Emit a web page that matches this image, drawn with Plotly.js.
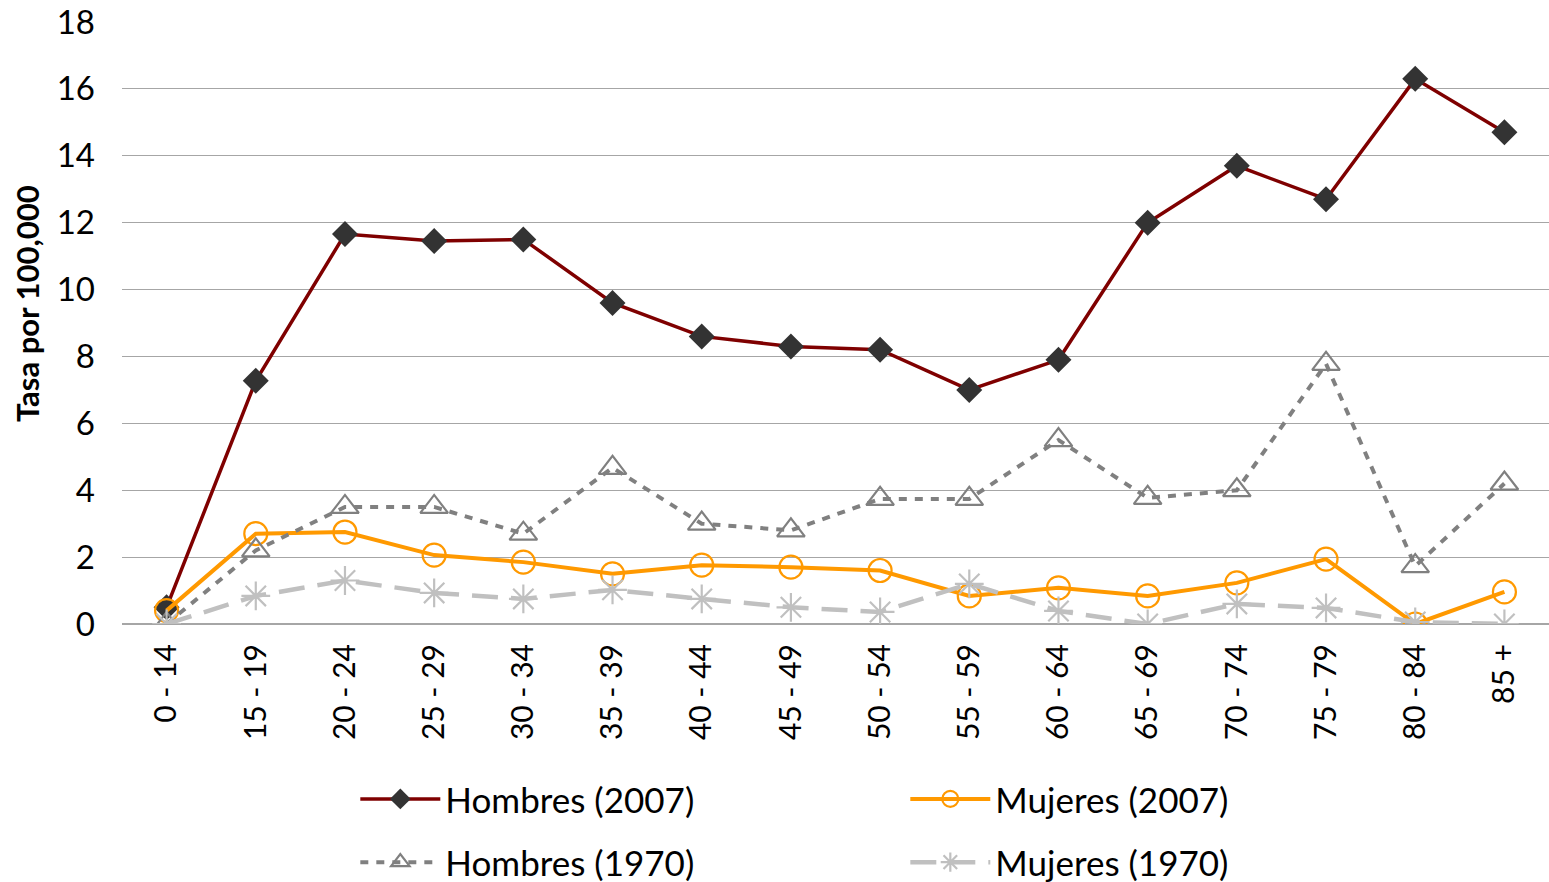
<!DOCTYPE html>
<html>
<head>
<meta charset="utf-8">
<script src="https://cdn.plot.ly/plotly-3.0.1.min.js"></script>
<style>
  html, body { margin: 0; padding: 0; background: #fff; }
  #plot { width: 1549px; height: 882px; }
</style>
</head>
<body>
<div id="plot"></div>
<script>
var grupos = ["0 - 14", "15 - 19", "20 - 24", "25 - 29", "30 - 34", "35 - 39", "40 - 44", "45 - 49",
              "50 - 54", "55 - 59", "60 - 64", "65 - 69", "70 - 74", "75 - 79", "80 - 84", "85 +"];

var hombres2007 = [0.5, 7.27, 11.66, 11.45, 11.5, 9.6, 8.6, 8.3, 8.2, 7.0, 7.9, 12.0, 13.7, 12.7, 16.3, 14.7];
var mujeres2007 = [0.4, 2.7, 2.75, 2.06, 1.85, 1.5, 1.76, 1.7, 1.6, 0.84, 1.08, 0.84, 1.23, 1.94, 0.0, 0.96];
var hombres1970 = [0.0, 2.2, 3.5, 3.5, 2.7, 4.67, 3.0, 2.8, 3.74, 3.74, 5.5, 3.77, 4.0, 7.78, 1.73, 4.2];
var mujeres1970 = [0.0, 0.84, 1.3, 0.93, 0.75, 1.02, 0.75, 0.5, 0.36, 1.2, 0.39, 0.0, 0.6, 0.48, 0.06, 0.0];

var fuente = "Lato, 'Open Sans', sans-serif";

var data = [
  {
    x: grupos, y: hombres2007, name: "Hombres (2007)", type: "scatter", mode: "lines+markers",
    legend: "legend",
    line: {color: "#7f0000", width: 3.5},
    marker: {symbol: "diamond", size: 20, color: "#333333"}
  },
  {
    x: grupos, y: mujeres2007, name: "Mujeres (2007)", type: "scatter", mode: "lines+markers",
    legend: "legend",
    line: {color: "#ff9900", width: 4},
    marker: {symbol: "circle-open", size: 23, color: "#ff9900", line: {width: 2.2}}
  },
  {
    x: grupos, y: hombres1970, name: "Hombres (1970)", type: "scatter", mode: "lines+markers",
    legend: "legend2",
    line: {color: "#808080", width: 4, dash: "8px,8px"},
    marker: {symbol: "triangle-up-open", size: 24, color: "#808080", line: {width: 2.2}}
  },
  {
    x: grupos, y: mujeres1970, name: "Mujeres (1970)", type: "scatter", mode: "lines+markers",
    legend: "legend2",
    line: {color: "#c0c0c0", width: 4.5, dash: "26px,13px"},
    marker: {symbol: "asterisk-open", size: 24, color: "#c0c0c0", line: {width: 2.2, color: "#c0c0c0"}}
  }
];

var estiloLeyenda = {
  orientation: "h",
  xref: "paper", yref: "paper",
  x: 0.1635, xanchor: "left",
  yanchor: "middle",
  entrywidth: 455,
  itemwidth: 80,
  font: {size: 35, family: fuente},
  bgcolor: "rgba(0,0,0,0)"
};

var layout = {
  width: 1549,
  height: 882,
  margin: {l: 122, r: 0, t: 22, b: 258, autoexpand: false},
  paper_bgcolor: "#ffffff",
  plot_bgcolor: "#ffffff",
  font: {family: fuente, color: "#000000"},
  showlegend: true,
  legend: Object.assign({}, estiloLeyenda, {y: -0.291}),
  legend2: Object.assign({}, estiloLeyenda, {y: -0.396}),
  xaxis: {
    type: "category",
    range: [-0.5, 15.5],
    automargin: false,
    tickangle: -90,
    tickfont: {size: 30, family: fuente},
    ticklabelstandoff: 13,
    showgrid: false,
    zeroline: false,
    showline: false,
    ticks: ""
  },
  yaxis: {
    range: [0, 18],
    dtick: 2,
    automargin: false,
    tickfont: {size: 33, family: fuente},
    ticklabelstandoff: 26,
    showgrid: true,
    gridcolor: "#a6a6a6",
    gridwidth: 1.3,
    zeroline: true,
    zerolinecolor: "#a6a6a6",
    zerolinewidth: 1.5,
    showline: false,
    ticks: ""
  },
  // y title as an annotation so it sits where the original puts it
  annotations: [{
    text: "<b>Tasa por 100,000</b>",
    xref: "paper", yref: "paper",
    x: -0.0666, y: 0.533,
    xanchor: "center", yanchor: "middle",
    textangle: -90,
    showarrow: false,
    font: {size: 31, family: fuente, color: "#000000"}
  }]
};

Plotly.newPlot("plot", data, layout, {displayModeBar: false});
</script>
</body>
</html>
